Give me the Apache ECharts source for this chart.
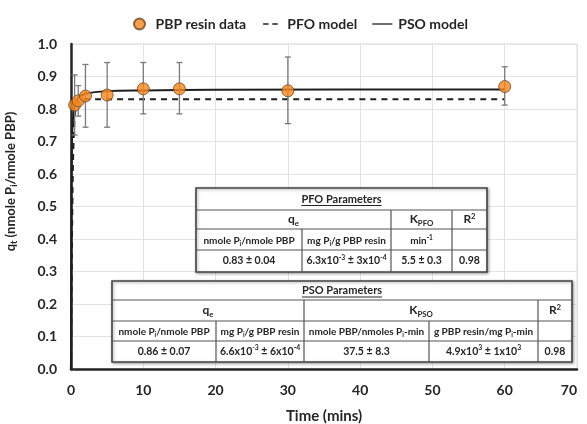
<!DOCTYPE html>
<html><head><meta charset="utf-8">
<script src="https://cdn.jsdelivr.net/npm/echarts@6/dist/echarts.min.js"></script>
<style>html,body{margin:0;padding:0;background:#fff}#c{width:587px;height:424px}</style>
</head><body><div id="c"></div>
<script>
// ---- data ----
const time = [0.5, 1, 2, 5, 10, 15, 30, 60];
const qt = [0.812, 0.825, 0.840, 0.843, 0.862, 0.862, 0.856, 0.869];
const errHigh = [0.905, 0.872, 0.937, 0.943, 0.943, 0.943, 0.960, 0.930];
const errLow = [0.720, 0.778, 0.744, 0.744, 0.785, 0.785, 0.755, 0.812];

const pfoTime = [0, 0.05, 0.1, 0.2, 0.3, 0.5, 0.75, 1, 2, 60];
const pfoQ = [0, 0.20, 0.35, 0.55, 0.67, 0.78, 0.815, 0.825, 0.83, 0.83];
const psoTime = [0, 0.05, 0.1, 0.2, 0.5, 1, 2, 5, 10, 20, 60];
const psoQ = [0, 0.53, 0.65, 0.745, 0.81, 0.835, 0.847, 0.855, 0.857, 0.859, 0.86];

const yTicks = ['0.0','0.1','0.2','0.3','0.4','0.5','0.6','0.7','0.8','0.9','1.0'];
const legendNames = ['PBP resin data', 'PFO model', 'PSO model'];

const pfoTitle = 'PFO Parameters';
const pfoHead = ['q{sub|e}', 'K{sub|PFO}', 'R{sup|2}'];
const pfoUnits = ['nmole P{sub|i}/nmole PBP', 'mg P{sub|i}/g PBP resin', 'min{sup|-1}', ''];
const pfoValues = ['0.83 ± 0.04', '6.3x10{sup|-3} ± 3x10{sup|-4}', '5.5 ± 0.3', '0.98'];

const psoTitle = 'PSO Parameters';
const psoHead = ['q{sub|e}', 'K{sub|PSO}', 'R{sup|2}'];
const psoUnits = ['nmole P{sub|i}/nmole PBP', 'mg P{sub|i}/g PBP resin', 'nmole PBP/nmoles P{sub|i}-min', 'g PBP resin/mg P{sub|i}-min', ''];
const psoValues = ['0.86 ± 0.07', '6.6x10{sup|-3} ± 6x10{sup|-4}', '37.5 ± 8.3', '4.9x10{sup|3} ± 1x10{sup|3}', '0.98'];

// ---- layout / style ----
const FONT = 'Lato, "Open Sans", "DejaVu Sans", sans-serif';
const TXT = '#262626';
const pfoLayout = {rows:[188,210,229,250,272], headCols:[196,391,452,487], cols:[196,302,391,452,487]};
const psoLayout = {rows:[281,300,321,341,362], headCols:[112,304,538,572], cols:[112,216,304,429,538,572]};
const ICON_DASH = 'path://M0,0M22,12M2,5.2H8V6.8H2ZM12,5.2H18V6.8H12Z';
const ICON_LINE = 'path://M0,0M22,12M0,5.3H22V6.7H0Z';

const ctx = document.createElement('canvas').getContext('2d');
function textW(t, font){ ctx.font = font; return ctx.measureText(t).width; }

function richFor(size){
  const s = Math.round(size*0.65*10)/10;
  return {
    sub:{fontSize:s, fontWeight:'bold', fontFamily:FONT, fill:TXT, verticalAlign:'bottom', lineHeight:s},
    sup:{fontSize:s, fontWeight:'bold', fontFamily:FONT, fill:TXT, verticalAlign:'top', lineHeight:s}
  };
}
function cellText(x, y, text, size){
  return {type:'text', x:x, y:y, z:101, style:{text:text, fill:TXT, fontSize:size, fontWeight:'bold', fontFamily:FONT,
    align:'center', verticalAlign:'middle', lineHeight:size+3, rich:richFor(size)}};
}
function line(x1,y1,x2,y2,w,c){
  return {type:'line', z:101, shape:{x1:x1,y1:y1,x2:x2,y2:y2}, style:{stroke:c||'#555', lineWidth:w||1}};
}
function buildTable(title, head, units, values, L){
  const r = L.rows, hc = L.headCols, c = L.cols;
  const x0 = c[0], x1 = c[c.length-1];
  const els = [];
  els.push({type:'rect', z:100, shape:{x:x0, y:r[0], width:x1-x0, height:r[4]-r[0]},
    style:{fill:'#fff', stroke:'#444', lineWidth:1.6, shadowBlur:3, shadowColor:'rgba(0,0,0,0.35)', shadowOffsetX:1, shadowOffsetY:1}});
  for (let i=1;i<=3;i++) els.push(line(x0, r[i], x1, r[i], 1.2));
  for (let j=1;j<hc.length-1;j++) els.push(line(hc[j], r[1], hc[j], r[2], 1.2));
  for (let j=1;j<c.length-1;j++) els.push(line(c[j], r[2], c[j], r[4], 1.2));
  const tSize = 11;
  const cx = (x0+x1)/2, ty = (r[0]+r[1])/2;
  els.push(cellText(cx, ty, title, tSize));
  const tw = textW(title, 'bold ' + tSize + 'px ' + FONT);
  els.push(line(cx-tw/2, ty+6.5, cx+tw/2, ty+6.5, 1, TXT));
  head.forEach((h,j)=>els.push(cellText((hc[j]+hc[j+1])/2, (r[1]+r[2])/2, h, 12)));
  units.forEach((u,j)=>{ if(u) els.push(cellText((c[j]+c[j+1])/2, (r[2]+r[3])/2+1, u, 10)); });
  values.forEach((v,j)=>els.push(cellText((c[j]+c[j+1])/2, (r[3]+r[4])/2, v, 10.5)));
  return els;
}

const chart = echarts.init(document.getElementById('c'), null, {renderer:'canvas'});
const option = {
  backgroundColor:'#fff',
  animation:false,
  textStyle:{fontFamily:FONT},
  legend:{
    data:[
      {name:legendNames[0], icon:'circle'},
      {name:legendNames[1], icon:ICON_DASH, itemStyle:{color:'#1f1f1f', borderWidth:0}},
      {name:legendNames[2], icon:ICON_LINE, itemStyle:{color:'#1f1f1f', borderWidth:0}}
    ],
    left:128, top:12, itemGap:15, itemWidth:22, itemHeight:11, symbolKeepAspect:true,
    textStyle:{fontSize:14, fontWeight:'bold', color:TXT, fontFamily:FONT}
  },
  grid:{left:71, right:10, top:44, bottom:55, outerBoundsMode:'none', containLabel:false,
        show:true, borderColor:'#d9d9d9', borderWidth:1},
  xAxis:{
    type:'value', min:0, max:70, interval:10,
    name:'Time (mins)', nameLocation:'middle', nameGap:40,
    nameTextStyle:{fontSize:15, fontWeight:'bold', color:TXT, fontFamily:FONT},
    axisLine:{show:true, onZero:false, lineStyle:{color:'#262626', width:2.5}},
    axisTick:{show:false},
    axisLabel:{fontSize:14, fontWeight:'bold', color:TXT, margin:14, fontFamily:FONT, alignMaxLabel:'right'},
    splitLine:{show:true, lineStyle:{color:'#e3e3e3', width:1}}
  },
  yAxis:{
    type:'value', min:0, max:1, interval:0.1,
    name:'{b|q}{s|t}{b| (nmole P}{s|i}{b|/nmole PBP)}', nameLocation:'middle', nameGap:52,
    nameTextStyle:{fontSize:13, fontWeight:'bold', color:TXT, fontFamily:FONT, padding:[0,0,0,50],
      rich:{b:{fontSize:13, fontWeight:'bold', color:TXT, fontFamily:FONT, lineHeight:16, verticalAlign:'middle'},
            s:{fontSize:9, fontWeight:'bold', color:TXT, fontFamily:FONT, lineHeight:9, verticalAlign:'bottom'}}},
    axisLine:{show:true, onZero:false, lineStyle:{color:'#262626', width:2.5}},
    axisTick:{show:false},
    axisLabel:{fontSize:14, fontWeight:'bold', color:TXT, margin:14, fontFamily:FONT,
      formatter:(v)=>yTicks[Math.round(v*10)]},
    splitLine:{show:true, lineStyle:{color:'#e3e3e3', width:1}}
  },
  series:[
    {name:legendNames[1], type:'line', z:3, symbol:'none', smooth:0.3,
     data:pfoTime.map((t,i)=>[t,pfoQ[i]]),
     lineStyle:{color:'#1f1f1f', width:2.2, type:[6,5]}, itemStyle:{color:'#1f1f1f'}},
    {name:legendNames[2], type:'line', z:4, symbol:'none', smooth:0.3,
     data:psoTime.map((t,i)=>[t,psoQ[i]]),
     lineStyle:{color:'#1f1f1f', width:2}, itemStyle:{color:'#1f1f1f'}},
    {name:'err', type:'custom', z:5,
     data:time.map((t,i)=>[t, errLow[i], errHigh[i]]),
     encode:{x:0, y:[1,2]},
     renderItem:function(params, api){
       const x = api.value(0);
       const lo = api.coord([x, api.value(1)]);
       const hi = api.coord([x, api.value(2)]);
       const w = 3;
       const st = {stroke:'#7a7a7a', lineWidth:1.3};
       return {type:'group', children:[
         {type:'line', shape:{x1:lo[0], y1:lo[1], x2:hi[0], y2:hi[1]}, style:st},
         {type:'line', shape:{x1:hi[0]-w, y1:hi[1], x2:hi[0]+w, y2:hi[1]}, style:st},
         {type:'line', shape:{x1:lo[0]-w, y1:lo[1], x2:lo[0]+w, y2:lo[1]}, style:st}
       ]};
     }},
    {name:legendNames[0], type:'scatter', z:6, symbol:'circle', symbolSize:12,
     data:time.map((t,i)=>[t,qt[i]]),
     itemStyle:{color:'#F7861E', borderColor:'#6b4a2a', borderWidth:1}}
  ],
  graphic:[].concat(
    buildTable(pfoTitle, pfoHead, pfoUnits, pfoValues, pfoLayout),
    buildTable(psoTitle, psoHead, psoUnits, psoValues, psoLayout)
  )
};
chart.setOption(option);
</script>
</body></html>
